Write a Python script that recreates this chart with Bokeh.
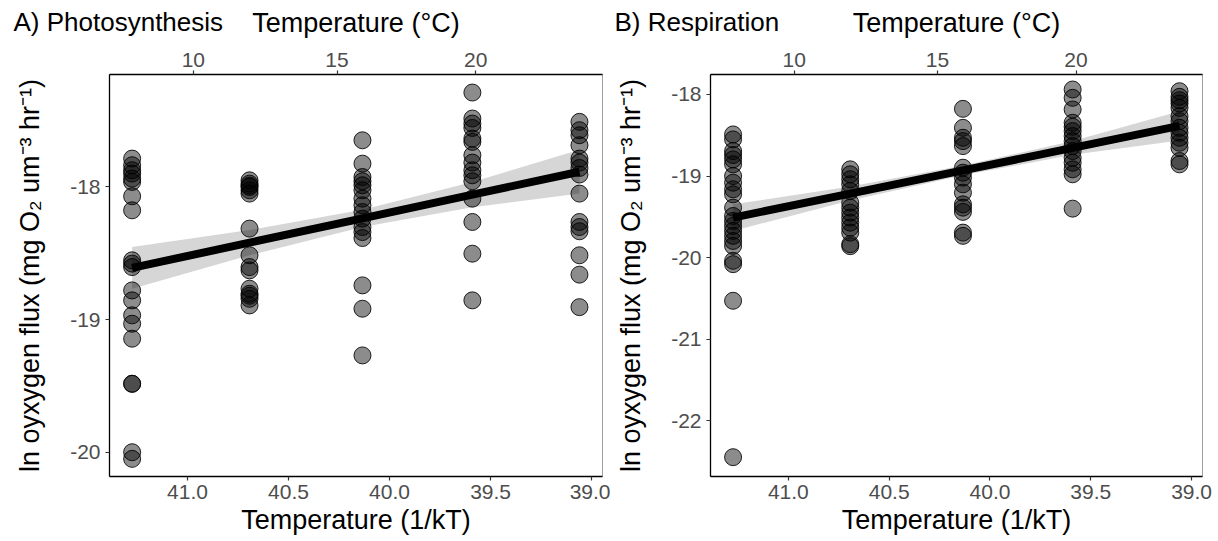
import numpy as np
from bokeh.plotting import figure
from bokeh.layouts import row
from bokeh.models import (LinearAxis, FixedTicker, PrintfTickFormatter,
                          CustomJSTickFormatter, Title, Range1d)
from bokeh.embed import file_html
from bokeh.resources import INLINE

FONT = "Liberation Sans"

# ---------------- data ----------------
# x positions of the five incubation temperatures (1/kT)
inv_kT = [41.274, 40.693, 40.134, 39.590, 39.060]

# Panel A: photosynthesis, ln oxygen flux per temperature group
photo_1 = [-17.786, -17.836, -17.874, -17.899, -17.937, -17.962, -18.070, -18.176,
           -18.553, -18.578, -18.604, -18.780, -18.855, -18.968, -19.031, -19.144,
           -19.484, -19.484, -20.000, -20.050]
photo_2 = [-17.950, -17.975, -17.990, -18.000, -18.025, -18.050, -18.314, -18.515,
           -18.604, -18.629, -18.767, -18.805, -18.820, -18.843, -18.893]
photo_3 = [-17.648, -17.824, -17.925, -17.957, -17.987, -18.025, -18.088, -18.138,
           -18.189, -18.239, -18.302, -18.340, -18.385, -18.742, -18.918, -19.270]
photo_4 = [-17.288, -17.484, -17.522, -17.555, -17.635, -17.660, -17.761, -17.816,
           -17.874, -17.912, -17.957, -18.088, -18.264, -18.503, -18.855]
photo_5 = [-17.509, -17.572, -17.610, -17.685, -17.786, -17.816, -17.857, -17.906,
           -18.050, -18.264, -18.302, -18.334, -18.515, -18.661, -18.906]
photo_fit = [-18.610, -18.420, -18.237, -18.058, -17.885]
photo_lower = [-18.767, -18.515, -18.302, -18.153, -18.050]
photo_upper = [-18.453, -18.325, -18.172, -17.963, -17.720]

# Panel B: respiration
resp_1 = [-18.490, -18.551, -18.694, -18.743, -18.796, -18.857, -19.000, -19.082,
          -19.163, -19.224, -19.388, -19.490, -19.551, -19.612, -19.673, -19.734,
          -19.796, -19.857, -20.040, -20.081, -20.530, -22.448]
resp_2 = [-18.918, -18.979, -19.040, -19.102, -19.184, -19.327, -19.388, -19.449,
          -19.510, -19.572, -19.633, -19.694, -19.836, -19.860]
resp_3 = [-18.176, -18.409, -18.531, -18.572, -18.633, -18.898, -18.959, -19.020,
          -19.102, -19.204, -19.347, -19.388, -19.440, -19.694, -19.734]
resp_4 = [-17.939, -18.041, -18.184, -18.347, -18.396, -18.449, -18.510, -18.572,
          -18.633, -18.694, -18.776, -18.837, -18.918, -18.979, -19.400]
resp_5 = [-17.960, -18.029, -18.070, -18.110, -18.164, -18.266, -18.327, -18.409,
          -18.470, -18.531, -18.592, -18.654, -18.816, -18.857]
resp_fit = [-19.510, -19.215, -18.931, -18.655, -18.385]
resp_lower = [-19.673, -19.300, -18.991, -18.740, -18.565]
resp_upper = [-19.347, -19.130, -18.871, -18.570, -18.205]

x_ticks = [39.0, 39.5, 40.0, 40.5, 41.0]
photo_y_ticks = [-20, -19, -18]
resp_y_ticks = [-22, -21, -20, -19, -18]
top_ticks_c = [10, 15, 20]
K_B = 8.62e-5  # Boltzmann constant (eV/K) for the secondary degC axis
top_tick_pos = [1.0 / (K_B * (t + 273.15)) for t in top_ticks_c]

X_RANGE = (41.386, 38.946)
Y_LABEL = "ln oyxygen flux (mg O\u2082 um\u207b\u00b3 hr\u207b\u00b9)"
X_LABEL = "Temperature (1/kT)"
TOP_LABEL = "Temperature (\u00b0C)"

H = 541
TOP, BOTTOM = 74, 65


def style_axis(ax):
    ax.axis_line_color = "black"
    ax.axis_line_width = 1.3
    ax.major_tick_line_color = "#333333"
    ax.major_tick_line_width = 1.2
    ax.major_tick_out = 4
    ax.major_tick_in = 0
    ax.minor_tick_out = 0
    ax.minor_tick_in = 0
    ax.major_label_text_font = FONT
    ax.major_label_text_font_size = "21px"
    ax.major_label_text_color = "#4d4d4d"
    ax.axis_label_text_font = FONT
    ax.axis_label_text_font_size = "27px"
    ax.axis_label_text_color = "black"
    ax.axis_label_text_font_style = "normal"


def make_panel(title, groups, fit, lo, hi, yrange, yticks, width, left, right):
    p = figure(width=width, height=H, x_range=Range1d(*X_RANGE),
               y_range=Range1d(*yrange), output_backend="svg",
               toolbar_location=None, min_border_left=left,
               min_border_right=right, min_border_top=TOP,
               min_border_bottom=BOTTOM)
    p.xgrid.visible = False
    p.ygrid.visible = False
    p.outline_line_color = "#a0a0a0"
    p.outline_line_width = 1
    p.background_fill_color = "white"
    p.border_fill_color = "white"

    p.varea(x=inv_kT, y1=lo, y2=hi, fill_color="#d6d6d6")
    xs, ys = [], []
    for xv, g in zip(inv_kT, groups):
        xs += [xv] * len(g)
        ys += list(g)
    p.scatter(xs, ys, size=17, fill_color="black", fill_alpha=0.45,
              line_color="black", line_alpha=0.85, line_width=1)
    p.line(inv_kT, fit, line_width=8, line_color="black")

    bottom_ax = p.below[0]
    left_ax = p.left[0]
    bottom_ax.ticker = FixedTicker(ticks=x_ticks)
    bottom_ax.formatter = PrintfTickFormatter(format="%.1f")
    bottom_ax.axis_label = X_LABEL
    bottom_ax.major_label_standoff = 4
    bottom_ax.axis_label_standoff = 3
    left_ax.ticker = FixedTicker(ticks=yticks)
    left_ax.formatter = PrintfTickFormatter(format="%d")
    left_ax.axis_label = Y_LABEL
    left_ax.major_label_standoff = 5
    left_ax.axis_label_standoff = 22

    top_ax = LinearAxis(ticker=FixedTicker(ticks=top_tick_pos),
                        formatter=CustomJSTickFormatter(
                            code="return Math.round(1/(8.62e-5*tick) - 273.15).toString()"),
                        axis_label=TOP_LABEL)
    top_ax.major_label_standoff = 4
    top_ax.axis_label_standoff = 12
    p.add_layout(top_ax, "above")
    for ax in (bottom_ax, left_ax, top_ax):
        style_axis(ax)

    t = Title(text=title, align="left", offset=-96, standoff=-64,
              text_font=FONT, text_font_size="26px", text_font_style="normal",
              text_color="black")
    p.add_layout(t, "above")
    return p


pA = make_panel("A) Photosynthesis",
                [photo_1, photo_2, photo_3, photo_4, photo_5],
                photo_fit, photo_lower, photo_upper,
                (-20.183, -17.152), photo_y_ticks, 610, 109, 8)
pB = make_panel("B) Respiration",
                [resp_1, resp_2, resp_3, resp_4, resp_5],
                resp_fit, resp_lower, resp_upper,
                (-22.685, -17.755), resp_y_ticks, 608, 100, 16)

layout = row(pA, pB)
open("out.html", "w").write(file_html(layout, INLINE))
